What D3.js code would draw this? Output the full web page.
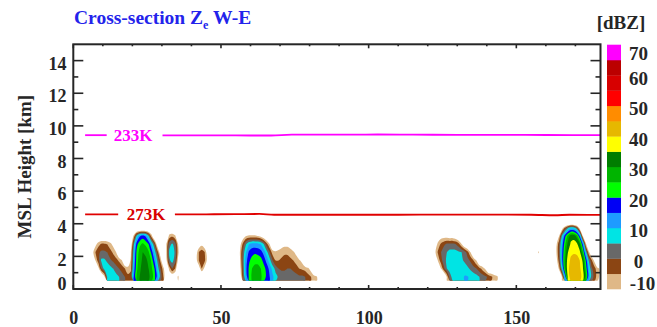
<!DOCTYPE html>
<html>
<head>
<meta charset="utf-8">
<script src="https://cdn.jsdelivr.net/npm/d3@7"></script>
<style>
  body { margin: 0; background: #fff; }
  svg { display: block; }
  text { font-family: "Liberation Serif", "Times New Roman", serif; font-weight: bold; }
</style>
</head>
<body>
<svg id="chart" width="657" height="327"></svg>
<script>
// ---- reflectivity classes (dBZ) and their colours ----
const levels = [-10, -5, 0, 5, 10, 15, 20, 25, 30, 35, 40, 45, 50, 55, 60, 65];
const levelColors = ["#dfb887", "#8b4513", "#686868", "#00e4e4", "#1e9bff", "#0000f5",
                     "#00ff00", "#00b400", "#007d00", "#ffff00", "#e6b800", "#ff8c00",
                     "#ff0000", "#d70000", "#bb0000", "#ff00ff"];
const colorbarTicks = [70, 60, 50, 40, 30, 20, 10, 0, -10];

// ---- axes ----
const xTicks = [0, 50, 100, 150];
const xMinorTicks = [10, 20, 30, 40, 60, 70, 80, 90, 110, 120, 130, 140, 160, 170];
const yTicks = [0, 2, 4, 6, 8, 10, 12, 14];
const yMinorTicks = [1, 3, 5, 7, 9, 11, 13];

// ---- reflectivity field: 1 km columns, rows centred at these heights (km) ----
const rowHeights = [0.75, 1.25, 1.75, 2.25, 2.75, 3.25, 3.75, 4.25];
const background = -20;
// each cell: x0 = centre of first column (km along section), rows from lowest upward
const cellA = { x0: 6.5, rows: [
  [-20,-20,-20,-20,-12,  6,  8,  8,  7,  5,  2,  0, -4, -9,-20],
  [-20,-20,-12,  0,  7,  8,  7,  5,  2,  0, -2, -5, -7,-14,-20],
  [-20,-10, -2,  6,  6,  4,  1, -1, -3, -6,-10,-20,-20,-20,-20],
  [-12, -5, -1,  1,  1,  0, -3, -6,-10,-20,-20,-20,-20,-20,-20],
  [-20,-12, -7, -4, -4, -5, -8,-12,-20,-20,-20,-20,-20,-20,-20]
]};
const cellB = { x0: 18.5, rows: [
  [-20, -3, 15, 26, 30, 32, 32, 31, 28, 22, 12,  3, -5,-20],
  [-20, -6, 12, 24, 29, 32, 32, 30, 26, 20,  8,  0, -8,-20],
  [-20, -8, 10, 23, 28, 31, 31, 29, 24, 14,  4, -6,-20,-20],
  [-20,-10,  8, 22, 27, 30, 29, 26, 18,  8, -2,-15,-20,-20],
  [-20,-15,  4, 18, 24, 26, 24, 20, 10,  0,-15,-20,-20,-20],
  [-20,-20, -8,  6, 14, 17, 14,  5, -8,-20,-20,-20,-20,-20],
  [-20,-20,-25,-25,-25,-25,-25,-25,-20,-20,-20,-20,-20,-20]
]};
const cellC = { x0: 30.5, rows: [
  [-20,-20,-16,-16,-17,-8.5,-20],
  [-20,-20, -8,  0, -5,-20,-20],
  [-20,-12,  4,  7,  2,-12,-20],
  [-20,-10,  6,  8,  4, -8,-20],
  [-20,-10,  3,  6,  2,-10,-20],
  [-20,-20, -8, -6, -9,-20,-20]
]};
const cellD = { x0: 41.5, rows: [
  [-20,-20,-20,-20,-20],
  [-20,-14, -5,-12,-20],
  [-13, -5, -1, -4,-13],
  [-14, -5, -2, -5,-15],
  [-20,-15,-12,-16,-20]
]};
const cellE = { x0: 55.5, rows: [
  [-20,-16,  0, 12, 21, 26, 27, 27, 26, 22, 19, 15, 11,  7,  4,  3,  3,  3,  3,  2,  2,  1,  1,  0, -3, -5, -8,-9.5,-20],
  [-20,-12,  2, 14, 21, 25, 26, 26, 25, 22, 18, 13,  8,  3,  0, -1, -1,  0,  0, -1, -3, -5, -6, -7, -9,-13,-20,-20,-20],
  [-20,-10,  3, 13, 19, 22, 24, 24, 22, 18, 13,  7,  0, -5, -5, -4, -3, -3, -4, -5, -7, -9,-12,-20,-20,-20,-20,-20,-20],
  [-20, -9,  2, 10, 16, 18, 19, 18, 17, 13,  7,  0, -8, -9, -8, -7, -6, -6, -7, -9,-12,-20,-20,-20,-20,-20,-20,-20,-20],
  [-20,-12, -3,  5, 10, 12, 12, 12, 10,  5, -3,-10,-16,-16,-15,-13,-12,-12,-14,-17,-20,-20,-20,-20,-20,-20,-20,-20,-20],
  [-20,-20,-14,-10, -9, -9, -9,-10,-12,-16,-20,-20,-20,-20,-20,-20,-20,-20,-20,-20,-20,-20,-20,-20,-20,-20,-20,-20,-20]
]};
const cellG = { x0: 121.5, rows: [
  [-20,-20,-20,-20,-20, -9,  3,  7,  8,  8,  9,10.3,10.3, 9,  8,  7,  5,  3,  1, -1, -4, -7, -9,-14],
  [-20,-20,-20,-10, -1,  5,  7,  8,  8,  8,  8,  8,  6,  4,  2,  0, -3, -7,-11,-20,-20,-20,-20,-20],
  [-20,-20, -9, -2,  3,  6,  7,  7,  7,  7,  6,  4,  2, -1, -5,-10,-20,-20,-20,-20,-20,-20,-20,-20],
  [-20,-11, -4,  0,  3,  5,  7,  7,  7,  6,  5,  3, -3,-10,-20,-20,-20,-20,-20,-20,-20,-20,-20,-20],
  [-20,-15, -8, -4, -1,  1,  1,  1,  0, -3,-10,-18,-20,-20,-20,-20,-20,-20,-20,-20,-20,-20,-20,-20],
  [-20,-20,-16,-13,-13,-13,-14,-14,-16,-20,-20,-20,-20,-20,-20,-20,-20,-20,-20,-20,-20,-20,-20,-20]
]};
const cellSpeck = { x0: 157.5, rows: [[-20], [-20], [-20], [-8.5]] };
const cellH = { x0: 162.5, rows: [
  [-20,-20,-20, -9, 12, 38, 42, 43, 43, 42, 38, 28, 12,  3, -2, -8],
  [-20,-20, -8,  8, 28, 39, 42, 43, 43, 41, 36, 24, 10,  1, -3, -9],
  [-20,-14, -2, 14, 29, 38, 41, 42, 42, 40, 34, 20,  5, -4,-12,-20],
  [-20,-11,  0, 14, 27, 35, 39, 39.5, 39, 36, 26,  8, -8,-18,-20,-20],
  [-20,-12, -1, 12, 24, 32, 36, 37, 36, 31, 15, -8,-20,-20,-20,-20],
  [-20,-20,-10,  6, 18, 27, 33, 33, 28, 14,-10,-20,-20,-20,-20,-20],
  [-20,-20,-20,-14, -4,  4,  8,  7,  0,-14,-20,-20,-20,-20,-20,-20],
  [-20,-20,-20,-20,-40,-40,-40,-40,-40,-20,-20,-20,-20,-20,-20,-20]
]};
const cells = [cellA, cellB, cellC, cellD, cellE, cellG, cellSpeck, cellH];

// ---- isotherms (km) ----
const iso233Segments = [
  [[4, 9.43], [11.3, 9.43]],
  [[30.2, 9.42], [40, 9.42], [50, 9.42], [60, 9.41], [67, 9.41], [74, 9.46], [85, 9.46],
   [95, 9.46], [103, 9.47], [115, 9.46], [130, 9.45], [145, 9.45], [160, 9.44], [178.5, 9.43]]
];
const iso273Segments = [
  [[4, 4.58], [15.2, 4.58]],
  [[34.4, 4.57], [45, 4.58], [55, 4.59], [63, 4.60], [68, 4.55], [80, 4.55], [95, 4.55],
   [110, 4.55], [125, 4.56], [140, 4.56], [155, 4.55], [163, 4.52], [168, 4.55], [178.5, 4.54]]
];
const isoLabels = [
  { text: "233K", x: 13.7, z: 9.43, color: "#ff00ff" },
  { text: "273K", x: 18.1, z: 4.57, color: "#d80000" }
];

// ---------------------------------------------------------------
const svg = d3.select("#chart");
const ink = "#262626";
const plot = { left: 73.3, right: 600.5, top: 44.3, bottom: 289 };

const x = d3.scaleLinear().domain([0, 178.5]).range([plot.left, plot.right]);
const y = d3.scaleLinear().domain([0, 15]).range([plot.bottom, plot.top]);

// build the gridded field
const NX = 178, NY = rowHeights.length;
const dz = rowHeights[1] - rowHeights[0];
const zBase = rowHeights[0] - dz / 2;
const field = new Array(NX * NY).fill(background);
const touched = new Array(NX * NY).fill(false);
cells.forEach(cell => {
  cell.rows.forEach((row, j) => {
    row.forEach((v, k) => {
      const i = Math.round(cell.x0 - 0.5) + k;
      if (i < 0 || i >= NX) return;
      const idx = j * NX + i;
      if (!touched[idx]) { field[idx] = v; touched[idx] = true; }
      else field[idx] = Math.max(field[idx], v);
    });
  });
});

const bands = d3.contours().size([NX, NY]).thresholds(levels)(field);

svg.append("defs").append("clipPath").attr("id", "plotClip")
  .append("rect")
  .attr("x", x(0)).attr("y", y(15))
  .attr("width", x(178.5) - x(0)).attr("height", y(zBase) - y(15));

const ringLine = d3.line()
  .x(p => x(p[0]))
  .y(p => y(zBase + p[1] * dz))
  .curve(d3.curveCatmullRomClosed.alpha(0.5));

const fieldG = svg.append("g").attr("clip-path", "url(#plotClip)");
bands.forEach((band, bi) => {
  let d = "";
  band.coordinates.forEach(poly => {
    poly.forEach(ring => {
      const pts = ring.slice(0, ring.length - 1);
      if (pts.length > 2) d += ringLine(pts);
    });
  });
  if (d) fieldG.append("path")
    .attr("d", d)
    .attr("fill", levelColors[bi])
    .attr("fill-rule", "evenodd");
});

// isotherms
const isoLine = d3.line().x(p => x(p[0])).y(p => y(p[1])).curve(d3.curveMonotoneX);
[[iso233Segments, "#ff00ff"], [iso273Segments, "#e00000"]].forEach(([segs, col]) => {
  segs.forEach(seg => {
    svg.append("path").attr("d", isoLine(seg))
      .attr("fill", "none").attr("stroke", col).attr("stroke-width", 1.8);
  });
});
isoLabels.forEach(l => {
  svg.append("text").attr("x", x(l.x)).attr("y", y(l.z) + 5.8)
    .attr("font-size", 17).attr("fill", l.color).text(l.text);
});

// frame
svg.append("rect")
  .attr("x", plot.left).attr("y", plot.top)
  .attr("width", plot.right - plot.left).attr("height", plot.bottom - plot.top)
  .attr("fill", "none").attr("stroke", ink).attr("stroke-width", 2);

// ticks
const tickG = svg.append("g").attr("stroke", ink).attr("stroke-width", 1.6);
yTicks.concat(yMinorTicks).forEach(v => {
  const len = yTicks.includes(v) ? 10 : 5;
  tickG.append("line").attr("x1", plot.left).attr("x2", plot.left + len)
    .attr("y1", y(v)).attr("y2", y(v));
  tickG.append("line").attr("x1", plot.right).attr("x2", plot.right - len)
    .attr("y1", y(v)).attr("y2", y(v));
});
xTicks.concat(xMinorTicks).forEach(v => {
  const len = xTicks.includes(v) ? 4 : 2;
  tickG.append("line").attr("x1", x(v)).attr("x2", x(v))
    .attr("y1", plot.bottom).attr("y2", plot.bottom - len);
  tickG.append("line").attr("x1", x(v)).attr("x2", x(v))
    .attr("y1", plot.top).attr("y2", plot.top + len);
});

// tick labels
yTicks.forEach(v => {
  const cy = Math.min(y(v) + 3, 283.3);
  svg.append("text").attr("x", 66.5).attr("y", cy + 6.2)
    .attr("text-anchor", "end").attr("font-size", 18).attr("fill", ink).text(v);
});
xTicks.forEach(v => {
  svg.append("text").attr("x", x(v) + 0.5).attr("y", 323.5)
    .attr("text-anchor", "middle").attr("font-size", 18).attr("fill", ink).text(v);
});

// axis title
svg.append("text")
  .attr("transform", `translate(31,${(plot.top + plot.bottom) / 2}) rotate(-90)`)
  .attr("text-anchor", "middle").attr("font-size", 19).attr("fill", ink)
  .text("MSL Height [km]");

// chart title
const title = svg.append("text").attr("x", 74).attr("y", 23.5)
  .attr("font-size", 19.5).attr("fill", "#2323eb");
title.append("tspan").text("Cross-section Z");
title.append("tspan").attr("font-size", 12).attr("dy", 5).text("e");
title.append("tspan").attr("dy", -5).text(" W-E");

// colour bar
const cb = d3.scaleLinear().domain([-10, 70]).range([plot.bottom, 44.7]);
levels.forEach((lv, i) => {
  svg.append("rect")
    .attr("x", 607).attr("width", 14)
    .attr("y", cb(lv + 5)).attr("height", cb(lv) - cb(lv + 5) + 0.3)
    .attr("fill", levelColors[i]);
});
colorbarTicks.forEach(v => {
  const cy = Math.min(Math.max(cb(v) + 3, 53.3), 283.3);
  svg.append("text")
    .attr("x", v < 0 ? 642.5 : 638.5).attr("y", cy + 6.3)
    .attr("text-anchor", "middle").attr("font-size", 19).attr("fill", ink).text(v);
});
svg.append("text").attr("x", 621).attr("y", 29)
  .attr("text-anchor", "middle").attr("font-size", 19).attr("fill", ink).text("[dBZ]");
</script>
</body>
</html>
